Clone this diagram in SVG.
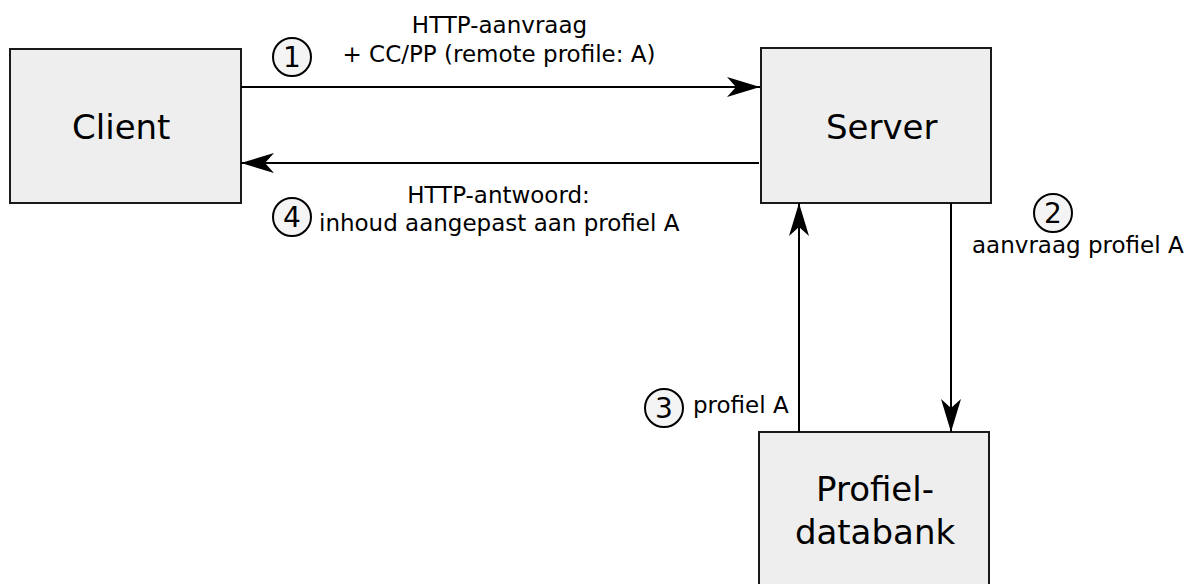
<svg xmlns="http://www.w3.org/2000/svg" width="1192" height="584" viewBox="0 0 1192 584">
<style>
.box{fill:#eeeeee;stroke:#1a1a1a;stroke-width:2}
.big{font-family:"DejaVu Sans",Verdana,sans-serif;font-size:34px;fill:#000}
.lbl{font-family:"DejaVu Sans",Verdana,sans-serif;font-size:23px;fill:#000}
.num{font-family:"DejaVu Sans",Verdana,sans-serif;font-size:28px;fill:#000;text-anchor:middle}
.circ{fill:#f4f4f4;stroke:#000;stroke-width:2}
.con{fill:none;stroke:#000;stroke-width:2}
</style>
<defs>
<marker id="ah" markerUnits="userSpaceOnUse" viewBox="-34 -11 36 22" markerWidth="36" markerHeight="22" refX="0" refY="0" orient="auto">
<path d="M0,0 L-33,-10 L-24,0 L-33,10 Z" fill="#000"/>
</marker>
</defs>
<rect width="1192" height="584" fill="#fff"/>
<g id="client"><rect class="box" x="10" y="49" width="231" height="154"/><text class="big" x="72" y="139">Client</text></g>
<g id="server"><rect class="box" x="761" y="48" width="230" height="155"/><text class="big" x="826" y="139">Server</text></g>
<g id="profieldatabank"><rect class="box" x="759" y="432" width="230" height="160"/><text class="big" x="875" y="501" text-anchor="middle">Profiel-</text><text class="big" x="875" y="544" text-anchor="middle">databank</text></g>
<g id="connectors">
<line class="con" x1="241" y1="87" x2="760" y2="87" marker-end="url(#ah)"/>
<line class="con" x1="759" y1="163" x2="241" y2="163" marker-end="url(#ah)"/>
<line class="con" x1="951" y1="203" x2="951" y2="432" marker-end="url(#ah)"/>
<line class="con" x1="799" y1="432" x2="799" y2="203" marker-end="url(#ah)"/>
</g>
<g id="label1"><circle class="circ" cx="292" cy="57" r="19"/><text class="num" x="292" y="67">1</text>
<text class="lbl" x="499.5" y="33" text-anchor="middle">HTTP-aanvraag</text><text class="lbl" x="499" y="62" text-anchor="middle">+ CC/PP (remote profile: A)</text></g>
<g id="label4"><circle class="circ" cx="292" cy="217" r="19"/><text class="num" x="292" y="227">4</text>
<text class="lbl" x="498.5" y="203" text-anchor="middle">HTTP-antwoord:</text><text class="lbl" x="319" y="231">inhoud aangepast aan profiel A</text></g>
<g id="label2"><circle class="circ" cx="1053" cy="213" r="19"/><text class="num" x="1053" y="223">2</text>
<text class="lbl" x="972" y="253">aanvraag profiel A</text></g>
<g id="label3"><circle class="circ" cx="664" cy="408" r="19"/><text class="num" x="664" y="418">3</text>
<text class="lbl" x="693" y="413">profiel A</text></g>
</svg>
